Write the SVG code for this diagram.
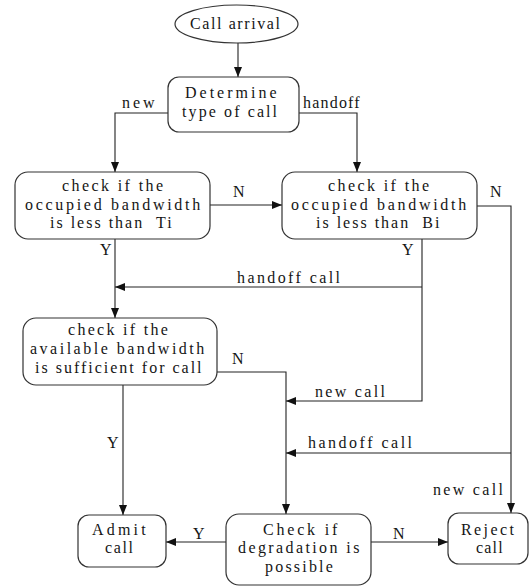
<svg xmlns="http://www.w3.org/2000/svg" width="531" height="586" viewBox="0 0 531 586" font-family="Liberation Serif" letter-spacing="2.4">
<style>
  .box { fill: #fff; stroke: #333; stroke-width: 1.2; }
  .t { font-family: "Liberation Serif", "Times New Roman", serif; font-size: 16px; fill: #151515; }
  .ln { fill: none; stroke: #222; stroke-width: 1.1; }
</style>
<defs>
  <marker id="ah" markerUnits="userSpaceOnUse" markerWidth="10" markerHeight="10" viewBox="0 0 10 10" refX="10" refY="5" orient="auto">
    <path d="M0,1 L10,5 L0,9 Z" fill="#111"/>
  </marker>
</defs>
<rect width="531" height="586" fill="#fff"/>

<g id="connectors">
  <path class="ln" d="M238,43 V77" marker-end="url(#ah)"/>
  <path class="ln" d="M168,113 H115 V172" marker-end="url(#ah)"/>
  <path class="ln" d="M299,113 H357 V172" marker-end="url(#ah)"/>
  <path class="ln" d="M210,205 H282" marker-end="url(#ah)"/>
  <path class="ln" d="M477,206 H511 V513" marker-end="url(#ah)"/>
  <path class="ln" d="M115,239 V318" marker-end="url(#ah)"/>
  <path class="ln" d="M422,239 V401 H286" marker-end="url(#ah)"/>
  <path class="ln" d="M422,287 H115" marker-end="url(#ah)"/>
  <path class="ln" d="M217,372 H286 V514" marker-end="url(#ah)"/>
  <path class="ln" d="M123,385 V515" marker-end="url(#ah)"/>
  <path class="ln" d="M511,453 H286" marker-end="url(#ah)"/>
  <path class="ln" d="M226,542 H166" marker-end="url(#ah)"/>
  <path class="ln" d="M371,542 H448" marker-end="url(#ah)"/>
  <text class="t" x="122" y="108" letter-spacing="3">new</text>
  <text class="t" x="303" y="108" letter-spacing="1.2">handoff</text>
  <text class="t" x="233" y="197">N</text>
  <text class="t" x="490" y="197">N</text>
  <text class="t" x="100" y="255">Y</text>
  <text class="t" x="402" y="255">Y</text>
  <text class="t" x="237" y="283">handoff call</text>
  <text class="t" x="232" y="364">N</text>
  <text class="t" x="315" y="397" letter-spacing="2.3">new call</text>
  <text class="t" x="107" y="448">Y</text>
  <text class="t" x="308" y="448" letter-spacing="2.5">handoff call</text>
  <text class="t" x="433" y="495" letter-spacing="2.3">new call</text>
  <text class="t" x="193" y="539">Y</text>
  <text class="t" x="393" y="539">N</text>
</g>

<g id="call-arrival">
  <ellipse class="box" cx="236.5" cy="24" rx="61.5" ry="19"/>
  <text class="t" x="190" y="29" letter-spacing="1.6">Call arrival</text>
</g>

<g id="determine-type">
  <rect class="box" x="168" y="77" width="131" height="55" rx="11"/>
  <text class="t" x="185" y="98" letter-spacing="3">Determine</text>
  <text class="t" x="182" y="117" letter-spacing="2.1">type of call</text>
</g>

<g id="check-ti">
  <rect class="box" x="15" y="172" width="195" height="67" rx="13"/>
  <text class="t" x="62" y="191">check if the</text>
  <text class="t" x="25" y="210" letter-spacing="2.7">occupied bandwidth</text>
  <text class="t" x="50" y="228" letter-spacing="2" xml:space="preserve">is less than  Ti</text>
</g>

<g id="check-bi">
  <rect class="box" x="282" y="172" width="195" height="67" rx="13"/>
  <text class="t" x="328" y="191">check if the</text>
  <text class="t" x="291" y="210" letter-spacing="2.7">occupied bandwidth</text>
  <text class="t" x="316" y="228" letter-spacing="2" xml:space="preserve">is less than  Bi</text>
</g>

<g id="check-available">
  <rect class="box" x="23" y="318" width="194" height="67" rx="13"/>
  <text class="t" x="68" y="335" letter-spacing="2.3">check if the</text>
  <text class="t" x="30" y="354" letter-spacing="2.5">available bandwidth</text>
  <text class="t" x="35" y="373" letter-spacing="2">is sufficient for call</text>
</g>

<g id="admit-call">
  <rect class="box" x="78" y="515" width="88" height="52" rx="11"/>
  <text class="t" x="92" y="535" letter-spacing="3.2">Admit</text>
  <text class="t" x="105" y="553" letter-spacing="1.6">call</text>
</g>

<g id="check-degradation">
  <rect class="box" x="226" y="514" width="145" height="71" rx="13"/>
  <text class="t" x="263" y="535" letter-spacing="2.8">Check if</text>
  <text class="t" x="238" y="553">degradation is</text>
  <text class="t" x="265" y="572" letter-spacing="2.2">possible</text>
</g>

<g id="reject-call">
  <rect class="box" x="448" y="513" width="80" height="51" rx="11"/>
  <text class="t" x="461" y="535">Reject</text>
  <text class="t" x="476" y="553" letter-spacing="1.2">call</text>
</g>
</svg>
